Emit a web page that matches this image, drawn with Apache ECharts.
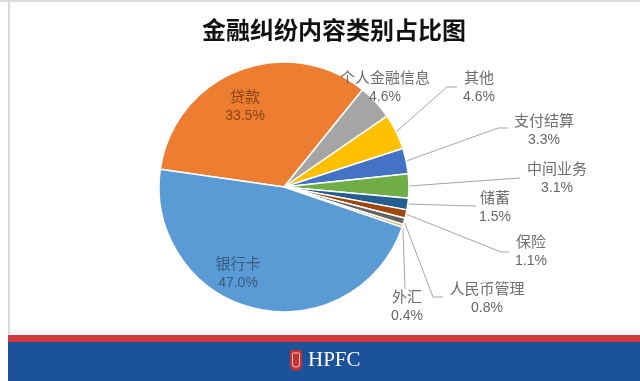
<!DOCTYPE html>
<html>
<head>
<meta charset="utf-8">
<script src="https://cdn.jsdelivr.net/npm/echarts@6/dist/echarts.min.js"></script>
<style>html,body{margin:0;padding:0;background:#fff}#c{width:640px;height:381px}</style>
</head>
<body>
<div id="c"></div>
<script>
// ---- data (clockwise order starting at the 贷款 slice) ----
const categories = ['贷款','个人金融信息','其他','支付结算','中间业务','储蓄','保险','人民币管理','外汇','银行卡'];
const values = [33.5, 4.6, 4.6, 3.3, 3.1, 1.5, 1.1, 0.8, 0.4, 47.0];
const colors = ['#ED7D31','#A5A5A5','#FFC000','#4472C4','#70AD47','#255E91','#9E480E','#636363','#D2BE86','#5B9BD5'];
const titleText = '金融纠纷内容类别占比图';

// ---- label layout (style / placement only) ----
const labelLayouts = [
  {x: 245, y: 106, inside: true, color: '#8a4414'},
  {x: 385, y: 87, noLine: true},
  {x: 479, y: 87, line: [[447, 87], [457, 87]]},
  {x: 544, y: 130, line: [[498, 128], [508, 128]]},
  {x: 557, y: 178, line: [[505, 179], [520, 178]]},
  {x: 495, y: 207, line: [[474, 206], [476, 206]]},
  {x: 531, y: 251, line: [[501, 252], [509, 252]]},
  {x: 487, y: 298, line: [[433, 297], [443, 297]]},
  {x: 407, y: 306, line: [[405, 288], [405, 289]]},
  {x: 238, y: 273, inside: true, color: '#35597f'}
];

const data = categories.map((name, i) => {
  const L = labelLayouts[i];
  const item = {name: name, value: values[i], itemStyle: {color: colors[i]}};
  if (L.inside) {
    item.label = {position: 'inside', rich: {n: {color: L.color}, v: {color: L.color}}};
    item.labelLine = {show: false};
  } else if (L.noLine) {
    item.labelLine = {show: false};
  }
  return item;
});

const chart = echarts.init(document.getElementById('c'), null, {renderer: 'canvas'});
chart.setOption({
  backgroundColor: '#ffffff',
  animation: false,
  title: {
    text: titleText,
    left: 197,
    top: 13,
    textStyle: {fontSize: 24, fontWeight: 'bold', color: '#111111', fontFamily: 'Noto Sans CJK SC'}
  },
  graphic: [
    {type: 'rect', shape: {x: 0, y: 0, width: 640, height: 2}, style: {fill: '#dedede'}, silent: true},
    {type: 'rect', shape: {x: 8, y: 0, width: 2, height: 336}, style: {fill: '#d9d9d9'}, silent: true},
    {type: 'rect', shape: {x: 8, y: 335, width: 632, height: 7}, style: {fill: '#d0383c'}, silent: true},
    {type: 'rect', shape: {x: 8, y: 342, width: 632, height: 39}, style: {fill: '#1c5299'}, silent: true},
    {type: 'rect', shape: {x: 290, y: 350, width: 12, height: 21, r: [2, 2, 6, 6]}, style: {fill: '#c8302f'}, silent: true},
    {type: 'rect', shape: {x: 292.5, y: 353, width: 7, height: 14, r: [1, 1, 3, 3]}, style: {fill: 'none', stroke: '#f2d0d0', lineWidth: 1}, silent: true},
    {type: 'text', left: 308, top: 350, style: {text: 'HPFC', fill: '#ffffff', font: '21px "Liberation Serif"'}, silent: true}
  ],
  series: [{
    type: 'pie',
    center: [284, 187],
    radius: 125,
    startAngle: 171.8,
    clockwise: true,
    avoidLabelOverlap: false,
    itemStyle: {borderColor: '#ffffff', borderWidth: 1.5},
    label: {
      show: true,
      position: 'outside',
      formatter: p => '{n|' + p.name + '}\n{v|' + p.value.toFixed(1) + '%}',
      rich: {
        n: {fontSize: 15, fontFamily: 'Noto Sans CJK SC', color: '#6e6e6e', lineHeight: 20, align: 'center'},
        v: {fontSize: 14, fontFamily: 'Liberation Sans', color: '#666666', lineHeight: 19, align: 'center'}
      }
    },
    labelLine: {show: true, length: 10, length2: 10, lineStyle: {color: '#a6a6a6', width: 1}},
    labelLayout: function (p) {
      const L = labelLayouts[p.dataIndex];
      const res = {x: L.x, y: L.y, align: 'center', verticalAlign: 'middle'};
      if (L.line && p.labelLinePoints) {
        res.labelLinePoints = [p.labelLinePoints[0]].concat(L.line);
      }
      return res;
    },
    data: data
  }]
});
</script>
</body>
</html>
